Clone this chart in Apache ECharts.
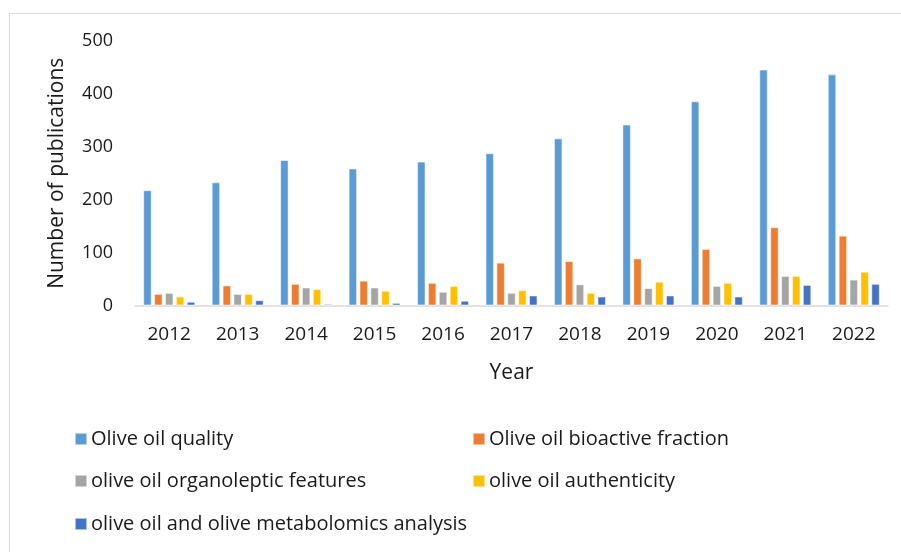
<!DOCTYPE html>
<html>
<head>
<meta charset="utf-8">
<script src="https://cdn.jsdelivr.net/npm/echarts@6/dist/echarts.min.js"></script>
<style>
  html, body { margin: 0; padding: 0; background: #fff; }
  #main { width: 901px; height: 552px; }
</style>
</head>
<body>
<div id="main"></div>
<script>
// data
var years = ['2012', '2013', '2014', '2015', '2016', '2017', '2018', '2019', '2020', '2021', '2022'];
var quality = [218, 233, 275, 259, 272, 288, 316, 342, 386, 446, 437];
var bioactive = [22, 38, 41, 47, 43, 81, 84, 89, 107, 148, 132];
var organoleptic = [24, 22, 34, 34, 26, 24, 40, 33, 37, 56, 49];
var authenticity = [17, 22, 31, 28, 37, 29, 24, 45, 43, 56, 64];
var metabolomics = [7, 10, 3, 5, 9, 19, 17, 19, 17, 39, 41];

var names = [
  'Olive oil quality',
  'Olive oil bioactive fraction',
  'olive oil organoleptic features',
  'olive oil authenticity',
  'olive oil and olive metabolomics analysis'
];
var colors = ['#5B9BD5', '#ED7D31', '#A5A5A5', '#FFC000', '#4472C4'];
var values = [quality, bioactive, organoleptic, authenticity, metabolomics];

var font = 'Open Sans';
var txt = '#1a1a1a';

var chart = echarts.init(document.getElementById('main'), null, { renderer: 'canvas' });

// legend position for each series (two columns, three rows)
var legendPos = [[74, 429], [472, 429], [74, 471], [472, 471], [74, 514]];
var legends = names.map(function (n, i) {
  return {
    data: [n],
    left: legendPos[i][0],
    top: legendPos[i][1],
    icon: 'rect',
    itemWidth: 12,
    itemHeight: 12,
    itemGap: 0,
    padding: 0,
    selectedMode: false,
    textStyle: { fontFamily: font, fontSize: 20, color: txt, padding: [0, 0, 0, -1] }
  };
});

var series = names.map(function (n, i) {
  return {
    name: n,
    type: 'bar',
    data: values[i],
    barWidth: 8.5,
    barGap: '28%',
    itemStyle: {
      color: colors[i],
      borderColor: 'rgba(255,255,255,0.55)',
      borderWidth: 1
    }
  };
});

var option = {
  backgroundColor: '#ffffff',
  animation: false,
  color: colors,
  graphic: [{
    type: 'rect',
    shape: { x: 9.5, y: 13.5, width: 920, height: 600 },
    style: { fill: 'none', stroke: '#d9d9d9', lineWidth: 1 },
    silent: true
  }],
  legend: legends,
  grid: { left: 135, right: 13, top: 41, bottom: 246.5 },
  xAxis: {
    type: 'category',
    data: years,
    name: 'Year',
    nameLocation: 'middle',
    nameGap: 57,
    nameTextStyle: { fontFamily: font, fontSize: 21, color: txt },
    axisLine: { lineStyle: { color: '#d9d9d9', width: 1.5 } },
    axisTick: { show: false },
    axisLabel: { fontFamily: font, fontSize: 19, color: txt, margin: 20 }
  },
  yAxis: {
    type: 'value',
    min: 0,
    max: 500,
    interval: 100,
    name: 'Number of publications',
    nameLocation: 'middle',
    nameGap: 67,
    nameTextStyle: { fontFamily: font, fontSize: 21, color: txt },
    axisLine: { show: false },
    axisTick: { show: false },
    splitLine: { show: false },
    axisLabel: { fontFamily: font, fontSize: 18, color: txt, margin: 22 }
  },
  series: series
};

chart.setOption(option);
</script>
</body>
</html>
